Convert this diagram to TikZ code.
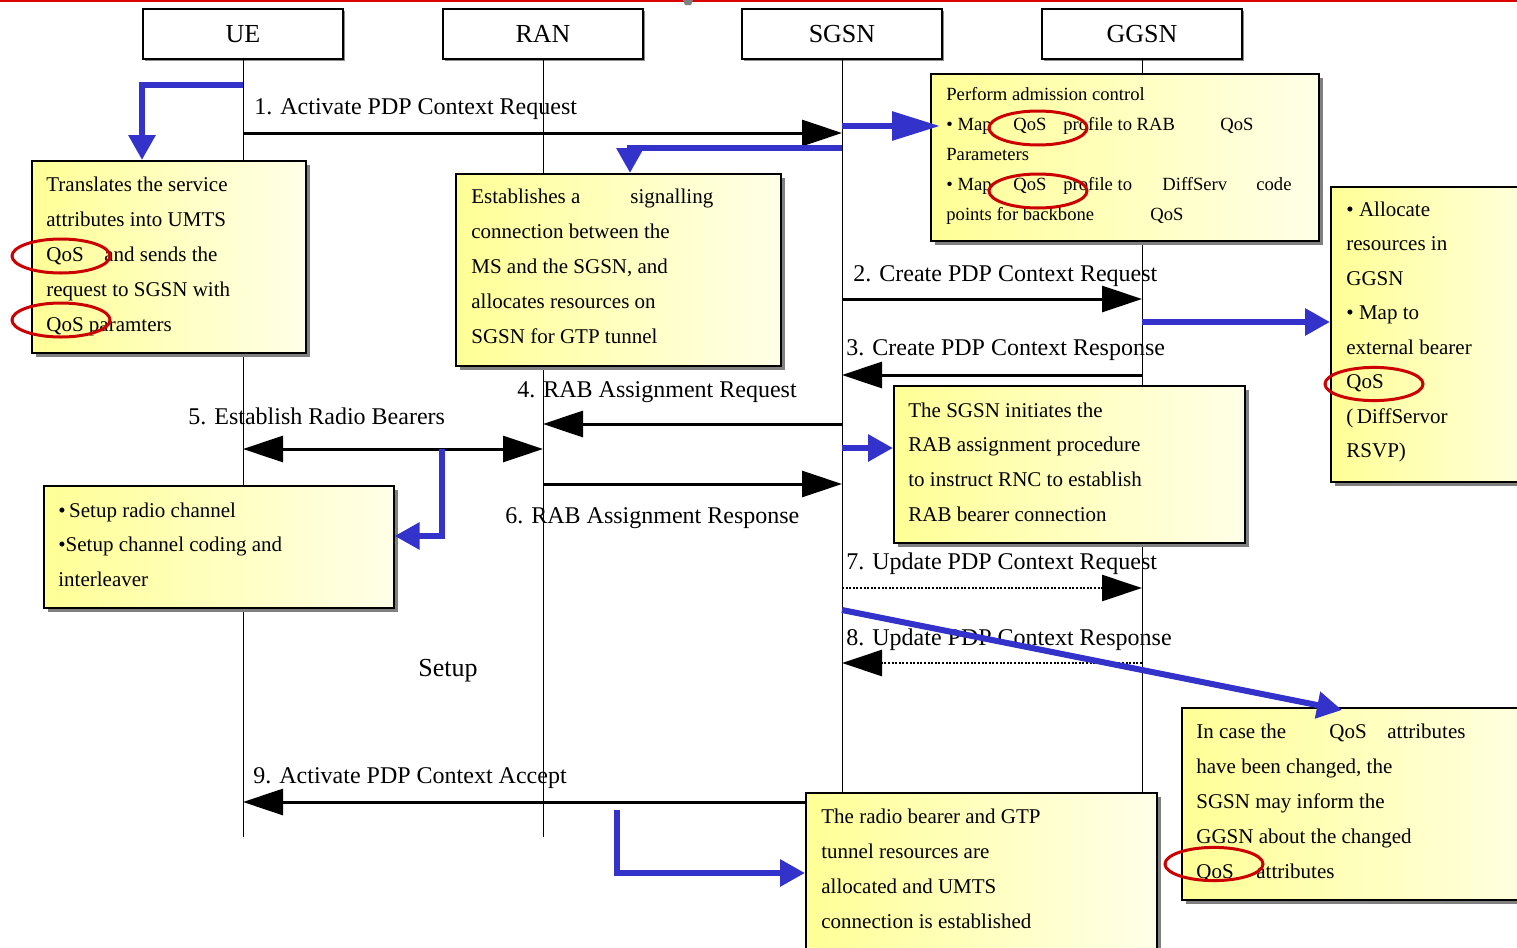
\documentclass[tikz,border=0pt]{standalone}
\usepackage{fontspec}
\setmainfont{Liberation Serif}
\usetikzlibrary{arrows.meta,shadows}
\definecolor{qblue}{RGB}{51,51,204}
\definecolor{qred}{RGB}{204,0,0}
\definecolor{qtop}{RGB}{221,0,0}
\definecolor{ylw}{RGB}{255,255,150}
\definecolor{ylwpale}{RGB}{255,255,232}
\newcommand{\notelines}[2][17.5pt]{\vtop{\hsize=220pt\parindent=0pt\parskip=0pt\baselineskip=#1\relax #2}}
\tikzset{
  hdr/.style   ={draw,line width=1pt,fill=white,minimum width=100pt,minimum height=25pt,inner sep=0pt,
                 font=\fontsize{13}{15}\selectfont,
                 drop shadow={shadow xshift=0.8pt,shadow yshift=-0.8pt,fill=black!45,opacity=1}},
  life/.style  ={line width=0.5pt},
  msg/.style   ={line width=1.5pt,-{Triangle[length=20pt,width=13pt]}},
  dmsg/.style  ={line width=1.5pt,{Triangle[length=20pt,width=13pt]}-{Triangle[length=20pt,width=13pt]}},
  dotmsg/.style={line width=1.3pt,dash pattern=on 1pt off 0.8pt,-{Triangle[length=20pt,width=13pt]}},
  lbl/.style   ={anchor=base west,inner sep=0pt,font=\fontsize{12}{14}\selectfont},
  note/.style  ={draw,line width=0.8pt,anchor=north west,inner sep=0pt,left color=ylw,right color=ylwpale,
                 drop shadow={shadow xshift=2pt,shadow yshift=-2pt,fill=black!50,opacity=1}},
  txt/.style   ={anchor=base west,inner sep=0pt,font=\fontsize{10.5}{12}\selectfont},
  hint/.style  ={qblue,line width=3pt,-{Triangle[length=12.5pt,width=13pt]}},
  ring/.style  ={qred,line width=1.5pt},
}
\begin{document}
\begin{tikzpicture}[x=0.5pt,y=-0.5pt]
  \useasboundingbox (0,0) rectangle (1517,948);

  \node[hdr] (ue)   at (243,34)  {UE};
  \node[hdr] (ran)  at (543,34)  {RAN};
  \node[hdr] (sgsn) at (842,34)  {SGSN};
  \node[hdr] (ggsn) at (1142,34) {GGSN};
  \coordinate (bot) at (0,837);
  \foreach \n in {ue,ran,sgsn,ggsn}
    \draw[life] (\n.south) -- (\n.south |- bot);

  \coordinate (m1) at (0,133);
  \coordinate (m2) at (0,299);
  \coordinate (m3) at (0,375);
  \coordinate (m4) at (0,424);
  \coordinate (m5) at (0,449);
  \coordinate (m6) at (0,484);
  \coordinate (m7) at (0,588);
  \coordinate (m8) at (0,663);
  \coordinate (m9) at (0,802);
  \draw[msg]    (ue |- m1)   -- (sgsn |- m1);
  \draw[msg]    (sgsn |- m2) -- (ggsn |- m2);
  \draw[msg]    (ggsn |- m3) -- (sgsn |- m3);
  \draw[msg]    (sgsn |- m4) -- (ran |- m4);
  \draw[dmsg]   (ue |- m5)   -- (ran |- m5);
  \draw[msg]    (ran |- m6)  -- (sgsn |- m6);
  \draw[dotmsg] (sgsn |- m7) -- (ggsn |- m7);
  \draw[dotmsg] (ggsn |- m8) -- (sgsn |- m8);
  \draw[msg]    (sgsn |- m9) -- (ue |- m9);

  \node[lbl] (l1) at (254,114) {1. Activate PDP Context Request};
  \node[lbl] (l2) at (853,281) {2. Create PDP Context Request};
  \node[lbl] (l3) at (846,355) {3. Create PDP Context Response};
  \node[lbl] (l4) at (517,397) {4. RAB Assignment Request};
  \node[lbl] (l5) at (188,424) {5. Establish Radio Bearers};
  \node[lbl] (l6) at (505,523) {6. RAB Assignment Response};
  \node[lbl] (l7) at (846,569) {7. Update PDP Context Request};
  \node[lbl] (l8) at (846,645) {8. Update PDP Context Response};
  \node[lbl] (l9) at (253,783) {9. Activate PDP Context Accept};
  \node[lbl,font=\fontsize{13}{15}\selectfont] (setup) at (418,676) {Setup};

  \node[note,minimum width=137pt,minimum height=96pt]     (transbox)  at (31,160)   {};
  \node[note,minimum width=162.5pt,minimum height=96pt]   (estbox)    at (455,173)  {};
  \node[note,minimum width=194pt,minimum height=83.5pt]   (admbox)    at (930,73)   {};
  \node[note,minimum width=115pt,minimum height=147.5pt]  (allocbox)  at (1330,186) {};
  \node[note,minimum width=175.5pt,minimum height=78.5pt] (rabbox)    at (893,385)  {};
  \node[note,minimum width=175pt,minimum height=61pt]     (radiobox)  at (43,485)   {};
  \node[note,minimum width=190pt,minimum height=96pt]     (changebox) at (1181,707) {};
  \node[note,minimum width=175.5pt,minimum height=100pt]  (tunnelbox) at (805,792)  {};

  \node[txt] (transtxt) at (46,191) {\notelines{Translates the service\par
    attributes into UMTS\par \makebox[29pt][l]{QoS}and sends the\par
    request to SGSN with\par QoS paramters}};
  \node[txt] (esttxt) at (471,203) {\notelines{\makebox[79.5pt][l]{Establishes a}signalling\par
    connection between the\par MS and the SGSN, and\par
    allocates resources on\par SGSN for GTP tunnel}};
  \node[txt,font=\fontsize{9.3}{11}\selectfont] (admtxt) at (946,100) {\notelines[15pt]{Perform admission control\par
    \makebox[33.5pt][l]{• Map}\makebox[25pt][l]{QoS}\makebox[78.5pt][l]{profile to RAB}QoS\par
    Parameters\par
    \makebox[33.5pt][l]{• Map}\makebox[25pt][l]{QoS}\makebox[49.5pt][l]{profile to}\makebox[47pt][l]{DiffServ}code\par
    \makebox[102pt][l]{points for backbone}QoS}};
  \node[txt] (alloctxt) at (1346,216) {\notelines[17.25pt]{• Allocate\par resources in\par GGSN\par
    • Map to\par external bearer\par QoS\par (\,DiffServor\par RSVP)}};
  \node[txt] (rabtxt) at (908,417) {\notelines[17.35pt]{The SGSN initiates the\par
    RAB assignment procedure\par to instruct RNC to establish\par RAB bearer connection}};
  \node[txt] (radiotxt) at (58,517) {\notelines[17.25pt]{•\,Setup radio channel\par
    •Setup channel coding and\par interleaver}};
  \node[txt] (changetxt) at (1196,738) {\notelines{\makebox[66.5pt][l]{In case the}\makebox[29pt][l]{QoS}attributes\par
    have been changed, the\par SGSN may inform the\par GGSN about the changed\par
    \makebox[30pt][l]{QoS}attributes}};
  \node[txt] (tunneltxt) at (821,823) {\notelines{The radio bearer and GTP\par
    tunnel resources are\par allocated and UMTS\par connection is established}};

  \coordinate (h1) at (0,85);
  \coordinate (h2) at (630,148);
  \coordinate (h3) at (0,126);
  \coordinate (h4) at (0,322);
  \coordinate (h5) at (0,448);
  \coordinate (h6) at (442,536);
  \coordinate (h7) at (0,610);
  \coordinate (h7e) at (1342,710);
  \coordinate (h8) at (617,810);
  \coordinate (h8e) at (0,873);
  \draw[hint] (ue |- h1) -| (ue.west |- transbox.north);
  \draw[hint] (sgsn |- h2) -| (h2 |- estbox.north);
  \draw[hint,-{Triangle[length=24pt,width=14pt]}] (sgsn |- h3) -- ([xshift=5pt]admbox.west |- h3);
  \draw[hint] (ggsn |- h4) -- (allocbox.west |- h4);
  \draw[hint] (sgsn |- h5) -- (rabbox.west |- h5);
  \draw[hint] (h6 |- m5) |- (radiobox.east |- h6);
  \draw[hint] (sgsn |- h7) -- (h7e);
  \draw[hint] (h8) |- (tunnelbox.west |- h8e);

  \draw[ring] (61,256)   ellipse [x radius=24.5pt,y radius=8.5pt];
  \draw[ring] (61,320)   ellipse [x radius=24.5pt,y radius=8.5pt];
  \draw[ring] (1038,128) ellipse [x radius=24.5pt,y radius=8.5pt];
  \draw[ring] (1038,191) ellipse [x radius=24.5pt,y radius=8.5pt];
  \draw[ring] (1374,384) ellipse [x radius=24.5pt,y radius=8.3pt];
  \draw[ring] (1214,864) ellipse [x radius=24.5pt,y radius=8.3pt];

  \draw[qtop,line width=1pt] (0,1) -- (1517,1);
  \fill[black!50] (683,0) -- (693,0) -- (691,5) -- (685,5) -- cycle;
\end{tikzpicture}
\end{document}
